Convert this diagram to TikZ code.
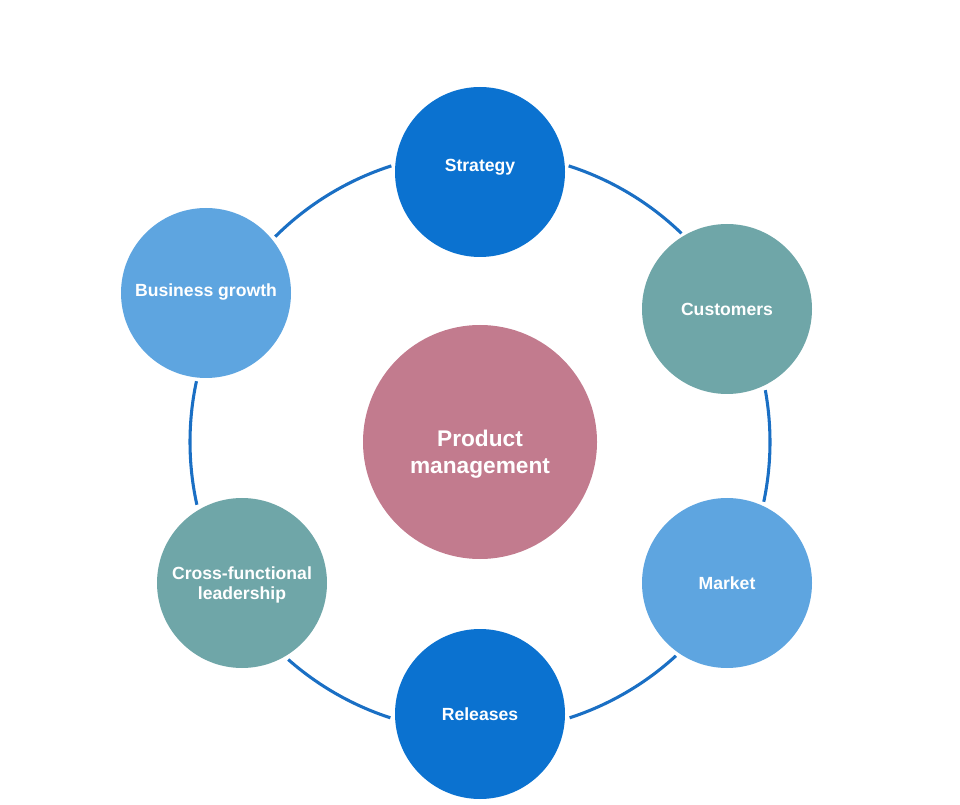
\documentclass[tikz,border=0pt]{standalone}
\usepackage{fontspec}
\setmainfont{Liberation Sans}
\definecolor{darkblue}{HTML}{0B72D0}
\definecolor{teal2}{HTML}{6FA6A8}
\definecolor{lightblue}{HTML}{5EA5E0}
\definecolor{pinkc}{HTML}{C27B8E}
\definecolor{ringc}{HTML}{1A6FC4}
\begin{document}
\begin{tikzpicture}[x=0.75pt,y=0.75pt,
  bubble/.style={circle,minimum size=127.5pt,inner sep=0pt,text=white,
    font=\fontsize{13.2}{15.5}\selectfont\bfseries,align=center},
  hub/.style={circle,minimum size=175.5pt,inner sep=0pt,fill=pinkc},
  hubtext/.style={inner sep=0pt,text=white,
    font=\fontsize{17}{20.5}\selectfont\bfseries,align=center},
  ring/.style={draw=ringc,line width=2.3pt}]
\useasboundingbox (0,0) rectangle (960,804);
\node[hub] (P) at (480,362) {};
\node[hubtext] (Pt) at ([yshift=-9pt]P.center) {Product\\management};
\node[bubble,fill=darkblue] (S) at (480,632) {\raisebox{3.75pt}[\height][\depth]{Strategy}};
\node[bubble,fill=teal2] (Cu) at (727,495) {Customers};
\node[bubble,fill=lightblue] (M) at (727,221) {Market};
\node[bubble,fill=darkblue] (R) at (480,90) {Releases};
\node[bubble,fill=teal2] (X) at (242,221) {\raisebox{-1.5pt}[\height][\depth]{Cross-functional}\\\raisebox{-1.5pt}[\height][\depth]{leadership}};
\node[bubble,fill=lightblue] (B) at (206,511) {\raisebox{1pt}[\height][\depth]{Business growth}};
\draw[ring] ([shift={(72.2:290)}]P.center) arc[start angle=72.2,end angle=46,radius=290];
\draw[ring] ([shift={(10.3:290)}]P.center) arc[start angle=10.3,end angle=-11.9,radius=290];
\draw[ring] ([shift={(-47.5:290)}]P.center) arc[start angle=-47.5,end angle=-72,radius=290];
\draw[ring] ([shift={(-108:290)}]P.center) arc[start angle=-108,end angle=-131.4,radius=290];
\draw[ring] ([shift={(192.5:290)}]P.center) arc[start angle=192.5,end angle=167.9,radius=290];
\draw[ring] ([shift={(134.9:290)}]P.center) arc[start angle=134.9,end angle=107.8,radius=290];
\end{tikzpicture}
\end{document}
